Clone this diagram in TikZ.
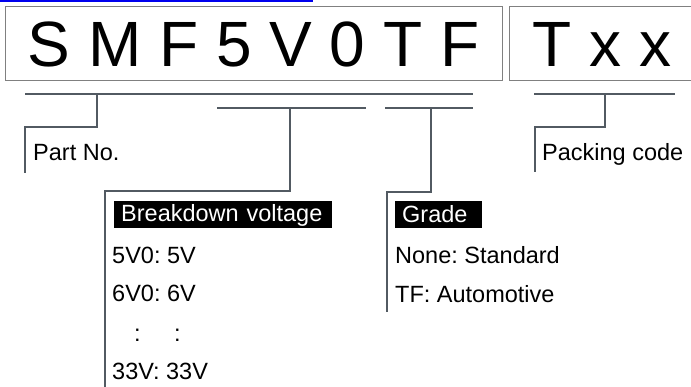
\documentclass[tikz,border=0pt]{standalone}
\usepackage{fontspec}
\setmainfont{Liberation Sans}
\usetikzlibrary{positioning}
\definecolor{linkblue}{RGB}{0, 0, 238}
\definecolor{framegray}{RGB}{128, 128, 128}
\definecolor{leadgray}{RGB}{82, 90, 98}
\frenchspacing

\begin{document}
\begin{tikzpicture}[
            x=1pt, y=-1pt,
            code/.style={
                draw=framegray,
                line width=1pt,
                font=\fontsize{64}{70}\selectfont,
                text height=46pt,
                text depth=0pt,
                inner sep=0pt,
                minimum height=74pt
            },
            lead/.style={draw=leadgray, line width=2pt},
            label/.style={
                font=\fontsize{23.5}{28}\selectfont,
                inner sep=0pt,
                anchor=base west
            },
            tag/.style={
                label,
                fill=black,
                text=white,
                inner xsep=7pt,
                text height=21pt,
                text depth=6pt,
                align=left
            }
        ]

            \clip (0,0) rectangle (691,387);
            \fill[linkblue] (0,0) rectangle (313,2.5);

            % Nodes
            \node[code, minimum width=497pt] (partcode) at (253.5,44) {S M F 5 V 0 T F};
            \node[code, minimum width=186pt] (packcode) at (602,44) {T x x};

            \node[label] (partno) at (33,161) {Part No.};
            \node[label] (packing) at (542,161) {Packing code};

            \node[tag, text width=204pt] (voltage) at (114,222) {Breakdown voltage};
            \node[label] (v5) at (112,263.5) {5V0: 5V};
            \node[label] (v6) at (112,302) {6V0: 6V};
            \node[label] (vdots) at (133.8,341.5) {:\hspace{33.6pt}:};
            \node[label] (v33) at (112,379.5) {33V: 33V};

            \node[tag, text width=73pt] (grade) at (395,222.5) {Grade};
            \node[label] (gnone) at (395,264) {None: Standard};
            \node[label] (gtf) at (395,302.5) {TF: Automotive};

            % Brackets
            \coordinate (pnL) at (25,94);
            \coordinate (pnR) at (473,94);
            \coordinate (pnM) at (96.5,94);
            \coordinate (vL) at (217,108);
            \coordinate (vR) at (366,108);
            \coordinate (vM) at (290,108);
            \coordinate (gL) at (385,108);
            \coordinate (gR) at (473,108);
            \coordinate (gM) at (431,108);
            \coordinate (pkL) at (534,94);
            \coordinate (pkR) at (675,94);
            \coordinate (pkM) at (605,94);

            \draw[lead] (pnL) -- (pnR);
            \draw[lead] (vL) -- (vR);
            \draw[lead] (gL) -- (gR);
            \draw[lead] (pkL) -- (pkR);

            % Leaders
            \draw[lead] (pnM) |- (25,127) -- (25,173);
            \draw[lead] (vM) |- (105,191) -- (105,390);
            \draw[lead] (gM) |- (387,192) -- (387,312);
            \draw[lead] (pkM) |- (535,127) -- (535,172);
        \end{tikzpicture}
\end{document}
